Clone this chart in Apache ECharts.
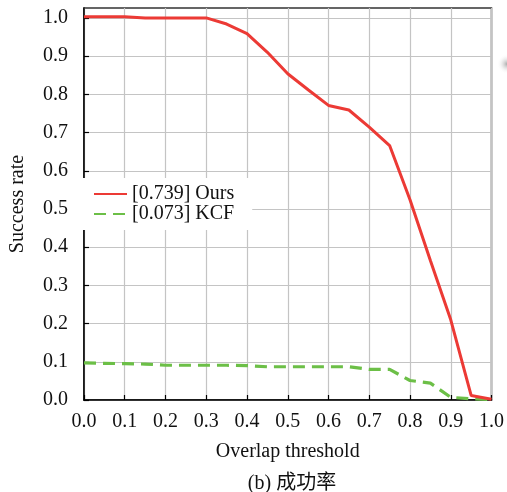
<!DOCTYPE html>
<html><head><meta charset="utf-8">
<script src="https://cdn.jsdelivr.net/npm/echarts@6/dist/echarts.min.js"></script>
<style>html,body{margin:0;padding:0;background:#fff}#c{width:507px;height:492px}</style>
</head><body><div id="c"></div>
<script>
const thresholds = [0,0.05,0.1,0.15,0.2,0.25,0.3,0.35,0.4,0.45,0.5,0.55,0.6,0.65,0.7,0.75,0.8,0.85,0.9,0.95,1.0];
const oursValues = [1.003,1.003,1.003,1.0,1.0,1.0,1.0,0.984,0.959,0.91,0.854,0.812,0.771,0.759,0.714,0.666,0.524,0.365,0.21,0.012,0.002];
const kcfValues = [0.097,0.096,0.095,0.094,0.091,0.091,0.091,0.091,0.090,0.087,0.087,0.087,0.087,0.087,0.080,0.080,0.051,0.044,0.007,0.003,0.001];
const seriesNames = ['[0.739] Ours','[0.073] KCF'];
const yTickValues = [0,0.1,0.2,0.3,0.4,0.5,0.6,0.7,0.8,0.9,1.0];
const xName = 'Overlap threshold';
const yName = 'Success rate';
const caption = '(b) 成功率';

const serif = '"Liberation Serif", "Times New Roman", serif';
const chart = echarts.init(document.getElementById('c'), null, {renderer:'canvas'});
chart.setOption({
  animation:false,
  backgroundColor:'#fff',
  title:{text:caption, left:287, textAlign:'center', top:469,
    textStyle:{fontFamily:'"Liberation Serif","Noto Sans CJK SC",serif', fontSize:20, fontWeight:'normal', color:'#111'}},
  grid:{left:80, top:8, right:11, bottom:92, show:true, borderColor:'#333', borderWidth:1.5, backgroundColor:'transparent'},
  legend:{orient:'vertical', left:81, top:178, padding:[6,18,6,12], itemGap:0, itemWidth:33, itemHeight:14,
    backgroundColor:'#fff', data:seriesNames, itemStyle:{opacity:0},
    textStyle:{fontFamily:serif, fontSize:20, lineHeight:19, color:'#111'}},
  graphic:[{type:'ellipse', shape:{cx:507, cy:64, rx:10, ry:22}, silent:true,
    style:{fill:{type:'radial', x:0.5, y:0.5, r:0.5, colorStops:[{offset:0,color:'rgba(150,150,150,0.8)'},{offset:1,color:'rgba(255,255,255,0)'}]}}}],
  xAxis:{type:'value', min:0, max:1, interval:0.1,
    name:xName, nameLocation:'middle', nameGap:42,
    nameTextStyle:{fontFamily:serif, fontSize:20, color:'#111'},
    axisLine:{show:true, onZero:false, lineStyle:{color:'#000', width:1.5}},
    axisTick:{show:true, inside:true, length:5, lineStyle:{color:'#000', width:1.2}},
    axisLabel:{fontFamily:serif, fontSize:20, color:'#111', margin:12, formatter:v=>v.toFixed(1)},
    splitLine:{show:true, lineStyle:{color:'#c4c4c4', width:1.2}}},
  yAxis:{type:'value', min:0, max:1.026, interval:0.1,
    name:yName, nameLocation:'middle', nameGap:56,
    nameTextStyle:{fontFamily:serif, fontSize:20, color:'#111'},
    axisLine:{show:true, lineStyle:{color:'#000', width:1.5}},
    axisTick:{show:true, inside:true, length:5, lineStyle:{color:'#000', width:1.2}, customValues:yTickValues},
    axisLabel:{fontFamily:serif, fontSize:20, color:'#111', margin:16, customValues:yTickValues,
      formatter:v=>v.toFixed(1)},
    splitLine:{show:true, lineStyle:{color:'#c4c4c4', width:1.2}}},
  series:[
    {name:seriesNames[0], type:'line', symbol:'none', data:thresholds.map((x,i)=>[x,oursValues[i]]),
      lineStyle:{color:'#ec3a35', width:3}, itemStyle:{color:'#ec3a35'}, z:3},
    {name:seriesNames[1], type:'line', symbol:'none', data:thresholds.map((x,i)=>[x,kcfValues[i]]),
      lineStyle:{color:'#6cbf47', width:3.2, type:[12,7]}, itemStyle:{color:'#6cbf47'}, z:2}
  ]
});
</script></body></html>
